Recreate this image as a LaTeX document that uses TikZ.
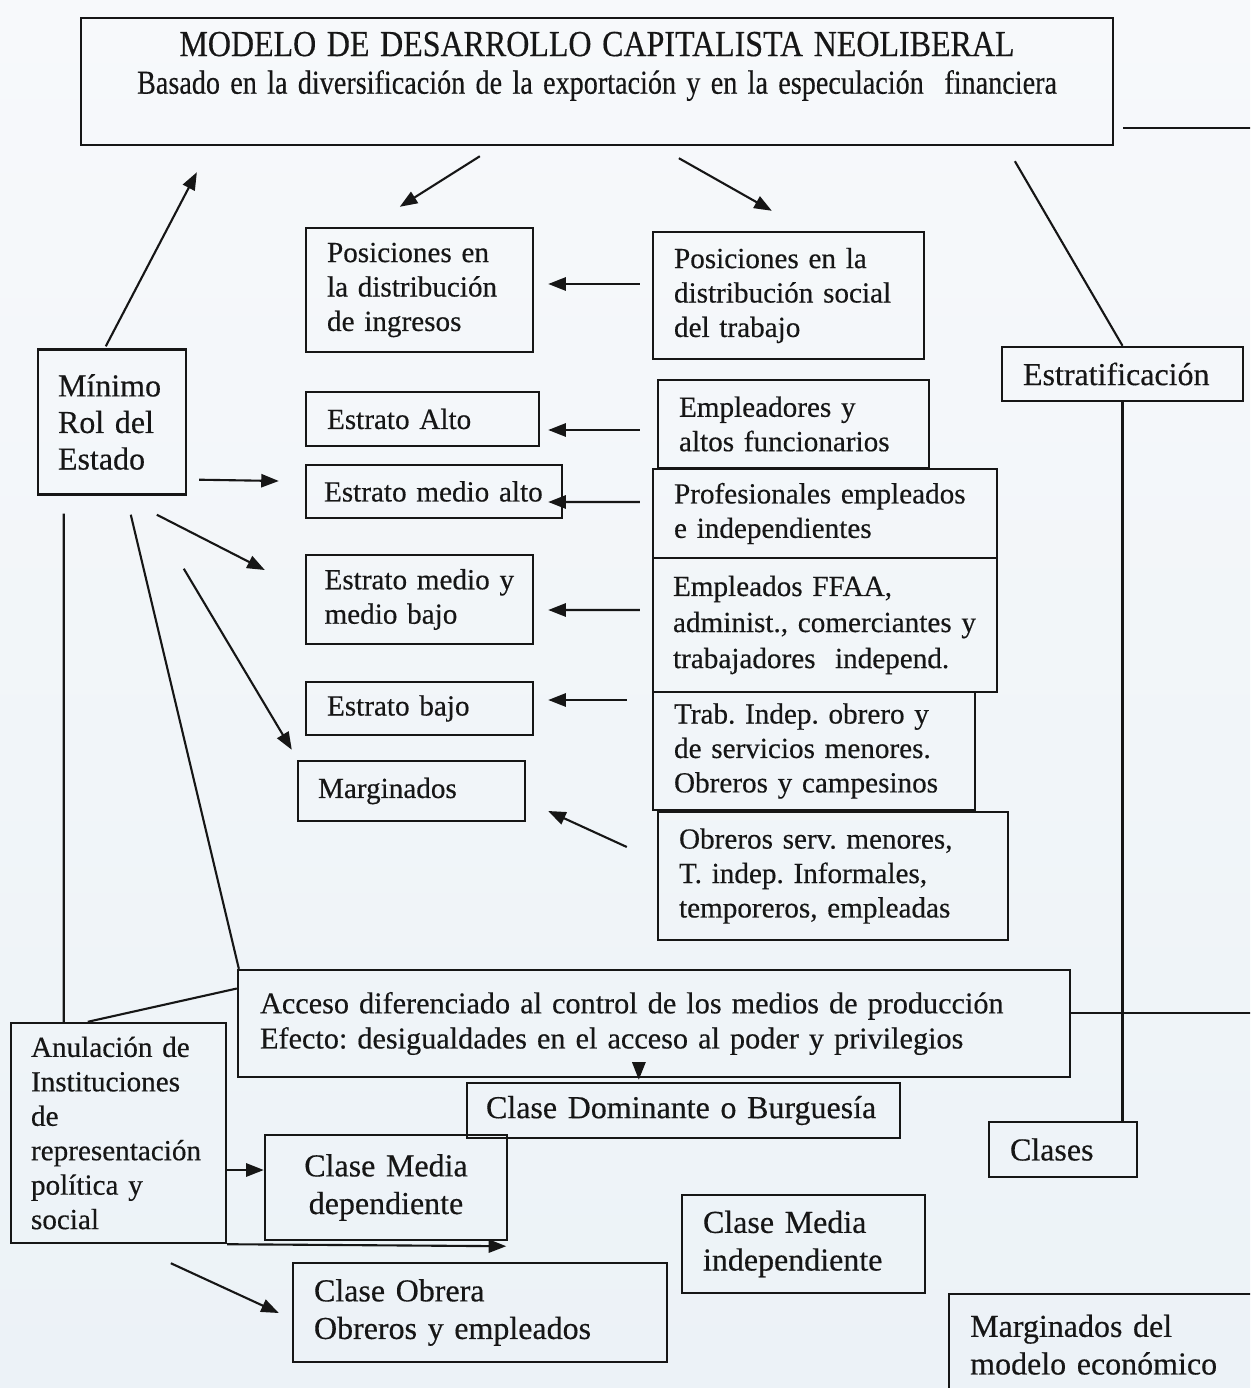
\documentclass[tikz,border=0pt]{standalone}
\usepackage{fontspec}
\setmainfont{Liberation Serif}[BoldFont={Liberation Serif},BoldFeatures={FakeBold=0.4}]
\usepackage{graphicx}
\usetikzlibrary{arrows.meta}
\definecolor{ink}{RGB}{22,22,22}
\definecolor{bgtop}{RGB}{247,249,251}
\definecolor{bgbot}{RGB}{236,242,247}
\newcommand\fsA{\fontsize{16.6}{19.6}\selectfont\bfseries}
\newcommand\fsB{\fontsize{18.2}{21.4}\selectfont\bfseries}
\newcommand\fsT{\fontsize{18.2}{21.4}\selectfont\bfseries}
\tikzset{
  box/.style={draw=ink, line width=1.4pt, inner xsep=0.42cm, inner ysep=0pt, align=left, text=ink, font=\fsA},
  arr/.style={draw=ink, line width=1.2pt, -{Triangle[length=10pt,width=7.5pt]}},
  ln/.style={draw=ink, line width=1.2pt},
}
\begin{document}
\frenchspacing
\begin{tikzpicture}[x=0.02cm,y=-0.02cm]
\useasboundingbox (0,0) rectangle (1250,1388);
\shade[top color=bgtop, bottom color=bgbot] (0,0) rectangle (1250,1388);
\clip (0,0) rectangle (1250,1388);

% title
\node[box, align=center, font=\fsT, minimum width=20.64cm, minimum height=2.54cm, text width=19.8cm] (title) at (597,81.5)
  {\scalebox{1}[1.15]{MODELO DE DESARROLLO CAPITALISTA NEOLIBERAL}\\
   {\fsA\scalebox{0.966}[1.15]{Basado en la diversificación de la exportación y en la especulación~ financiera}}\rule[-0.75cm]{0pt}{0pt}};

% upper boxes
\node[box, minimum width=4.54cm, minimum height=2.48cm, text width=3.70cm] (pi) at (419.5,290)
  {Posiciones en\\la distribución\\de ingresos};
\node[box, minimum width=5.42cm, minimum height=2.54cm, text width=4.58cm] (ps) at (788.5,295.5)
  {Posiciones en la\\distribución social\\del trabajo};
\node[box, font=\fontsize{18.2}{20.8}\selectfont\bfseries, inner xsep=0.4cm, minimum width=2.96cm, minimum height=2.90cm, text width=2.16cm] (mre) at (112,422)
  {Mínimo\\Rol del\\Estado};
\node[box, font=\fsB, minimum width=4.82cm, minimum height=1.08cm, text width=3.98cm] (estr) at (1122.5,374)
  {Estratificación};

% strata
\node[box, minimum width=4.66cm, minimum height=1.08cm, text width=3.82cm] (ea) at (422.5,419) {Estrato Alto};
\node[box, minimum width=5.42cm, minimum height=1.76cm, text width=4.58cm] (emp) at (793.5,424)
  {Empleadores y\\altos funcionarios};
\node[box, inner xsep=0.36cm, minimum width=5.12cm, minimum height=1.06cm, text width=4.40cm] (ema) at (434,491.5) {Estrato medio alto};
\node[box, minimum width=6.88cm, minimum height=1.78cm, text width=6.04cm] (prof) at (825,513.5)
  {Profesionales empleados\\e independientes};
\node[box, inner xsep=0.37cm, minimum width=4.54cm, minimum height=1.78cm, text width=3.80cm] (emb) at (419.5,599.5)
  {Estrato medio y\\medio bajo};
\node[box, font=\fontsize{16.6}{20.5}\selectfont\bfseries, inner xsep=0.4cm, minimum width=6.88cm, minimum height=2.68cm, text width=6.08cm] (ffaa) at (825,625)
  {Empleados FFAA,\\administ., comerciantes y\\trabajadores~ independ.};
\node[box, minimum width=4.54cm, minimum height=1.06cm, text width=3.70cm] (eb) at (419.5,708.5) {Estrato bajo};
\node[box, minimum width=6.44cm, minimum height=2.36cm, text width=5.60cm] (trab) at (814,751)
  {Trab. Indep. obrero y\\de servicios menores.\\Obreros y campesinos};
\node[box, inner xsep=0.4cm, minimum width=4.54cm, minimum height=1.20cm, text width=3.74cm] (marg) at (411.5,791) {Marginados};
\node[box, minimum width=7.0cm, minimum height=2.56cm, text width=6.16cm] (obr) at (833,876)
  {Obreros serv. menores,\\T. indep. Informales,\\temporeros, empleadas};

% lower boxes
\node[box, font=\fontsize{17.2}{20}\selectfont\bfseries, inner xsep=0.44cm, minimum width=16.64cm, minimum height=2.14cm, text width=15.76cm] (acc) at (654,1023.5)
  {Acceso diferenciado al control de los medios de producción\\Efecto: desigualdades en el acceso al poder y privilegios};
\node[box, inner xsep=0.4cm, minimum width=4.30cm, minimum height=4.40cm, text width=3.50cm] (anu) at (118.5,1133)
  {Anulación de\\Instituciones\\de\\representación\\política y\\social};
\node[box, font=\fsB, inner xsep=0.38cm, minimum width=8.66cm, minimum height=1.10cm, text width=7.90cm] (cdom) at (683.5,1110.5)
  {Clase Dominante o Burguesía};
\node[box, font=\fsB, align=center, minimum width=4.84cm, minimum height=2.10cm, text width=4.0cm] (cmd) at (386,1187.5)
  {Clase Media\\dependiente};
\node[box, font=\fsB, minimum width=2.96cm, minimum height=1.10cm, text width=2.12cm] (cla) at (1063,1149.5) {Clases};
\node[box, font=\fsB, minimum width=4.86cm, minimum height=1.96cm, text width=4.02cm] (cmi) at (803.5,1244)
  {Clase Media\\independiente};
\node[box, font=\fsB, minimum width=7.48cm, minimum height=1.98cm, text width=6.64cm] (cob) at (480,1312.5)
  {Clase Obrera\\Obreros y empleados};
\node[box, font=\fsB, anchor=north west, minimum width=6.84cm, minimum height=2.02cm, text width=6.0cm] (mme) at (948,1293)
  {Marginados del\\modelo económico};

% connectors
\draw[arr] ([shift={(400,10)}]title.south west) -- ([shift={(95,-20)}]pi.north west);
\draw[arr] ([shift={(599,12)}]title.south west) -- ([shift={(120,-20)}]ps.north west);
\draw[ln] ([shift={(935,15)}]title.south west) -- (estr.north);
\draw[ln] ([shift={(9,-18)}]title.south east) -- ++(200,0);
\draw[arr] ([shift={(69,-2)}]mre.north west) -- ([shift={(117,26)}]title.south west);
\draw[arr] ([shift={(12,-16)}]mre.south east) -- ([shift={(-26,-10.5)}]ema.west);
\draw[arr] ([shift={(120,19)}]mre.south west) -- ([shift={(-40,-29.5)}]emb.west);
\draw[arr] ([shift={(147,73)}]mre.south west) -- ([shift={(-5,-10)}]marg.north west);
\draw[ln] ([shift={(94,19)}]mre.south west) -- ([shift={(2,0)}]acc.north west);
\draw[ln] ([shift={(27,18)}]mre.south west) -- ([shift={(54,0)}]anu.north west);

\draw[arr] ([shift={(-12,-11.5)}]ps.west) -- ([shift={(14,-6)}]pi.east);
\draw[arr] ([shift={(-17,6)}]emp.west) -- ([shift={(8,11)}]ea.east);
\draw[arr] ([shift={(-12,-11.5)}]prof.west) -- ([shift={(-15,10.5)}]ema.east);
\draw[arr] ([shift={(-12,-15)}]ffaa.west) -- ([shift={(14,10.5)}]emb.east);
\draw[arr] ([shift={(-25,-51)}]trab.west) -- ([shift={(14,-8.5)}]eb.east);
\draw[arr] ([shift={(-30,-29)}]obr.west) -- ([shift={(22,20)}]marg.east);

\draw[ln] (estr.south) -- (estr.south |- cla.north);
\draw[ln] ([shift={(0,-10.5)}]acc.east) -- ++(220,0);
\draw[arr] ([shift={(402,-14)}]acc.south west) -- ([shift={(173,-2)}]cdom.north west);
\draw[ln] ([shift={(78,0)}]anu.north west) -- ([shift={(0,-35)}]acc.west);
\draw[arr] ([shift={(0,37)}]anu.east) -- ([shift={(0,-17.5)}]cmd.west);
\draw[arr] (anu.south east) -- ([shift={(-2,5)}]cmd.south east);
\draw[arr] ([shift={(161,19)}]anu.south west) -- ([shift={(-13,0.5)}]cob.west);
\end{tikzpicture}
\end{document}
